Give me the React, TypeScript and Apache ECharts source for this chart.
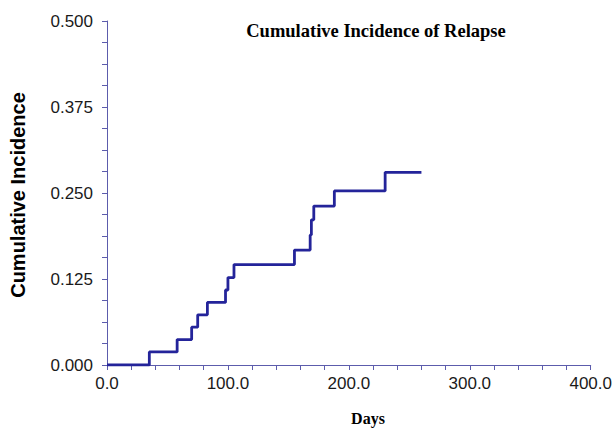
import React, { useEffect, useRef } from "react";
import * as echarts from "echarts";

const days = [0, 35, 58, 70, 75, 83, 98, 100, 105, 155, 168, 169, 171, 188, 230, 260];
const incidence = [0, 0.019, 0.037, 0.055, 0.073, 0.091, 0.109, 0.127, 0.146, 0.167, 0.189, 0.211, 0.231, 0.253, 0.28, 0.28];
const yTicks = [0, 0.125, 0.25, 0.375, 0.5];
const xTicks = [0, 100, 200, 300, 400];
const titleText = "Cumulative Incidence of Relapse";
const xName = "Days";
const yName = "Cumulative Incidence";

export default function App() {
  const ref = useRef<HTMLDivElement>(null);
  useEffect(() => {
    if (!ref.current) return;
    const chart = echarts.init(ref.current, null, { renderer: "svg" });
    const axisColor = "#5c5cac";
    const labelFont = { fontFamily: "Liberation Sans, Arial, sans-serif", fontSize: 17, color: "#1a1a1a" };
    chart.setOption({
      animation: false,
      backgroundColor: "#ffffff",
      grid: { left: 107, right: 22, top: 21, bottom: 67 },
      xAxis: {
        type: "value",
        min: xTicks[0],
        max: xTicks[xTicks.length - 1],
        interval: 100,
        axisLine: { show: true, lineStyle: { color: axisColor, width: 1 } },
        axisTick: { show: true, length: 5, lineStyle: { color: axisColor } },
        minorTick: { show: true, splitNumber: 5, length: 5, lineStyle: { color: axisColor } },
        splitLine: { show: false },
        axisLabel: { ...labelFont, margin: 10, formatter: (v: number) => v.toFixed(1) },
      },
      yAxis: {
        type: "value",
        min: yTicks[0],
        max: yTicks[yTicks.length - 1],
        interval: 0.125,
        axisLine: { show: true, lineStyle: { color: axisColor, width: 1 } },
        axisTick: { show: true, length: 5, lineStyle: { color: axisColor } },
        minorTick: { show: true, splitNumber: 4, length: 5, lineStyle: { color: axisColor } },
        splitLine: { show: false },
        axisLabel: { ...labelFont, margin: 14, formatter: (v: number) => v.toFixed(3) },
      },
      graphic: [
        {
          type: "text",
          x: 376,
          y: 31,
          style: {
            text: titleText,
            font: "bold 18.5px 'Liberation Serif', 'Times New Roman', serif",
            fill: "#000",
            textAlign: "center",
            textVerticalAlign: "middle",
          },
        },
        {
          type: "text",
          x: 368,
          y: 418,
          style: {
            text: xName,
            font: "bold 16px 'Liberation Serif', 'Times New Roman', serif",
            fill: "#000",
            textAlign: "center",
            textVerticalAlign: "middle",
          },
        },
        {
          type: "text",
          x: 18,
          y: 195,
          rotation: Math.PI / 2,
          style: {
            text: yName,
            font: "bold 20px 'Liberation Sans', Arial, sans-serif",
            fill: "#000",
            textAlign: "center",
            textVerticalAlign: "middle",
          },
        },
      ],
      series: [
        {
          type: "line",
          step: "end",
          data: days.map((d, i) => [d, incidence[i]]),
          showSymbol: false,
          lineStyle: { color: "#24249a", width: 2.8 },
          itemStyle: { color: "#24249a" },
        },
      ],
    });
    return () => chart.dispose();
  }, []);
  return <div ref={ref} style={{ position: "fixed", left: 0, top: 0, width: 615, height: 432 }} />;
}
